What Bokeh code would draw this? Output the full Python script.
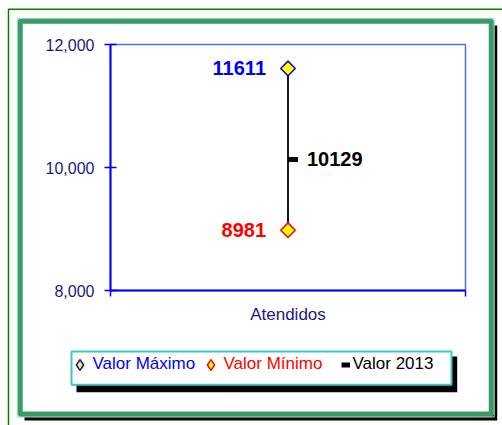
import math
from bokeh.plotting import figure
from bokeh.models import (Range1d, FixedTicker, NumeralTickFormatter, BoxAnnotation,
                          Legend, LegendItem, LinearAxis)
from bokeh.core.properties import value
from bokeh.embed import file_html
from bokeh.resources import INLINE

# ---- data ----
CATEGORIES = ["Atendidos"]
VALOR_MAXIMO = [11611]
VALOR_MINIMO = [8981]
VALOR_2013 = [10129]
SERIES_NAMES = ["Valor Máximo", "Valor Mínimo", "Valor 2013"]
Y_TICKS = [8000, 10000, 12000]

FONT = "Liberation Sans"
NAVY = "#1a1a80"
BLUE = "#0000ff"
RED = "#ff0000"

# ---- layout geometry (canvas pixels) ----
W, H = 502, 425
PA_LEFT, PA_RIGHT, PA_TOP, PA_BOTTOM = 110, 465, 44, 290   # plot area in pixels

n = len(CATEGORIES)
y0, y1 = Y_TICKS[0], Y_TICKS[-1]
xppu = (PA_RIGHT - PA_LEFT) / n
yppu = (PA_BOTTOM - PA_TOP) / (y1 - y0)
x_range = Range1d(-PA_LEFT / xppu, n + (W - PA_RIGHT) / xppu)
y_range = Range1d(y0 - (H - PA_BOTTOM) / yppu, y1 + PA_TOP / yppu)

xc = [i + 0.5 for i in range(n)]

p = figure(width=W, height=H, x_range=x_range, y_range=y_range,
           output_backend="svg", toolbar_location=None,
           x_axis_type=None, y_axis_type=None,
           min_border_left=0, min_border_right=0, min_border_top=0, min_border_bottom=0)
p.grid.visible = False
p.background_fill_color = "white"
p.border_fill_color = "white"
p.outline_line_color = None

def canvas_box(l, r, t, b, **kw):
    kw.setdefault("line_alpha", 1)
    kw.setdefault("fill_alpha", 1)
    p.add_layout(BoxAnnotation(left=l, right=r, top=t, bottom=b,
                               left_units="canvas", right_units="canvas",
                               top_units="canvas", bottom_units="canvas",
                               level="underlay", **kw))

# outer thin green line
canvas_box(8, 700, 8.7, 700, fill_alpha=0, line_color="#008000", line_width=1.5)
# thick green frame with black shadow
canvas_box(24, 496.7, 25, 420, fill_color="black", line_alpha=0)
canvas_box(19.5, 491, 20.5, 413.8, fill_color="white", line_color="#3a9a68", line_width=5.5)
canvas_box(16.8, 493.7, 17.8, 416.5, fill_alpha=0, line_color="#a8dcc0", line_width=1)
# legend box with shadow
canvas_box(76, 456.7, 356, 391.7, fill_color="black", line_alpha=0)
canvas_box(71, 451, 351, 384.3, fill_color="white", line_color="#3cc8c8", line_width=2)

# plot area border (top/right visible, left/bottom covered by axes)
p.add_layout(BoxAnnotation(left=0, right=n, bottom=y0, top=y1, fill_alpha=0, line_alpha=1,
                           line_color="#4a6cff", line_width=1.5, level="underlay"))

# ---- axes ----
yaxis = LinearAxis(fixed_location=0, bounds=(y0, y1))
yaxis.ticker = FixedTicker(ticks=Y_TICKS)
yaxis.formatter = NumeralTickFormatter(format="0,0")
yaxis.axis_line_color = BLUE
yaxis.axis_line_width = 2
yaxis.major_tick_line_color = BLUE
yaxis.major_tick_line_width = 1.5
yaxis.major_tick_in = 6
yaxis.major_tick_out = 6
yaxis.minor_tick_line_color = None
yaxis.major_label_text_font = FONT
yaxis.major_label_text_font_size = "16px"
yaxis.major_label_text_color = NAVY
yaxis.major_label_standoff = 10
p.add_layout(yaxis, "left")

xaxis = LinearAxis(fixed_location=y0, bounds=(0, n))
xaxis.ticker = FixedTicker(ticks=[0, n])
xaxis.major_label_overrides = {0: "", n: ""}
xaxis.major_label_text_font_size = "1px"
xaxis.axis_line_color = BLUE
xaxis.axis_line_width = 2
xaxis.major_tick_line_color = BLUE
xaxis.major_tick_line_width = 1.5
xaxis.major_tick_in = 0
xaxis.major_tick_out = 6
xaxis.minor_tick_line_color = None
xaxis.axis_label = CATEGORIES[0]
xaxis.axis_label_text_font = FONT
xaxis.axis_label_text_font_size = "17px"
xaxis.axis_label_text_font_style = "normal"
xaxis.axis_label_text_color = NAVY
xaxis.axis_label_standoff = 8
p.add_layout(xaxis, "below")

# ---- marks ----
p.segment(x0=xc, y0=VALOR_MINIMO, x1=xc, y1=VALOR_MAXIMO, line_color="black", line_width=1.8)
r3 = p.segment(x0=xc, y0=VALOR_2013, x1=[x + 10 / xppu for x in xc], y1=VALOR_2013,
               line_color="black", line_width=5, line_cap="butt")
# diamond-marker renderers (covered by the rotated squares) that provide the legend keys
r1 = p.scatter(x=xc, y=VALOR_MAXIMO, marker="diamond", size=12,
               fill_color="#ffff00", line_color=BLUE, line_width=1.5)
r2 = p.scatter(x=xc, y=VALOR_MINIMO, marker="diamond", size=12,
               fill_color="#ffff00", line_color=RED, line_width=1.5)
p.scatter(x=xc, y=VALOR_MAXIMO, marker="square", angle=math.pi / 4, size=10.3,
          fill_color="#ffff00", line_color=BLUE, line_width=1.5)
p.scatter(x=xc, y=VALOR_MINIMO, marker="square", angle=math.pi / 4, size=10.3,
          fill_color="#ffff00", line_color=RED, line_width=1.5)

p.text(x=xc, y=VALOR_MAXIMO, text=[str(v) for v in VALOR_MAXIMO], x_offset=-22,
       text_align="right", text_baseline="middle", text_font=value(FONT), text_font_size="20px",
       text_font_style="bold", text_color=BLUE)
p.text(x=xc, y=VALOR_MINIMO, text=[str(v) for v in VALOR_MINIMO], x_offset=-22,
       text_align="right", text_baseline="middle", text_font=value(FONT), text_font_size="20px",
       text_font_style="bold", text_color=RED)
p.text(x=xc, y=VALOR_2013, text=[str(v) for v in VALOR_2013], x_offset=19, y_offset=-1,
       text_align="left", text_baseline="middle", text_font=value(FONT), text_font_size="20px",
       text_font_style="bold", text_color="black")

# ---- legends ----
def make_legend(item, renderer, color, cx, gw, standoff):
    gh = 27
    lg = Legend(items=[LegendItem(label=item, renderers=[renderer])],
                location=(cx - gw / 2, H - 364 - gh / 2),
                orientation="horizontal", padding=0, margin=0, spacing=0,
                glyph_width=gw, glyph_height=gh, label_height=24, label_standoff=standoff,
                border_line_alpha=0, background_fill_alpha=0,
                label_text_font=FONT, label_text_font_size="17px", label_text_color=color)
    p.add_layout(lg, "center")

make_legend(SERIES_NAMES[0], r1, BLUE, 79, 27, 0)
make_legend(SERIES_NAMES[1], r2, RED, 210, 27, 0)
make_legend(SERIES_NAMES[2], r3, "black", 345, 9, 3)

open("out.html", "w").write(file_html(p, INLINE))
